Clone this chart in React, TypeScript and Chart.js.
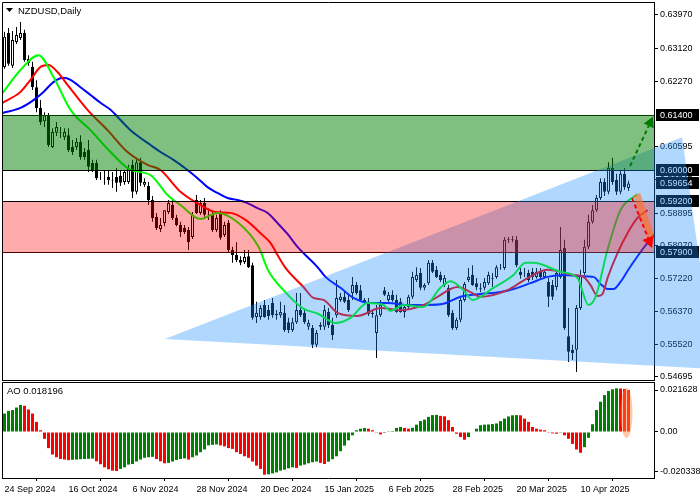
import React, { useEffect, useRef } from 'react';
import { Chart, registerables } from 'chart.js';
Chart.register(...registerables);

const FONT = '"Liberation Sans", Arial, sans-serif';

// ---------- price candles (NZDUSD daily) ----------
const openP = [
  0.6264, 0.6351, 0.6267, 0.6328, 0.6338, 0.6351, 0.6284, 0.6264, 0.6212, 0.6159,
  0.6125, 0.6140, 0.6059, 0.6095, 0.6097, 0.6084, 0.6089, 0.6059, 0.6059, 0.6072,
  0.6046, 0.6051, 0.6018, 0.6018, 0.5982, 0.5979, 0.5982, 0.5974, 0.5982, 0.5985,
  0.5969, 0.5969, 0.6013, 0.5944, 0.6020, 0.5962, 0.5959, 0.5923, 0.5880, 0.5849,
  0.5864, 0.5892, 0.5910, 0.5877, 0.5859, 0.5851, 0.5846, 0.5828, 0.5923, 0.5890,
  0.5915, 0.5887, 0.5885, 0.5846, 0.5890, 0.5833, 0.5864, 0.5795, 0.5782, 0.5769,
  0.5764, 0.5779, 0.5756, 0.5623, 0.5623, 0.5654, 0.5641, 0.5659, 0.5628, 0.5628,
  0.5634, 0.5610, 0.5590, 0.5610, 0.5641, 0.5634, 0.5598, 0.5595, 0.5552, 0.5598,
  0.5598, 0.5636, 0.5603, 0.5628, 0.5667, 0.5675, 0.5667, 0.5685, 0.5705, 0.5692,
  0.5667, 0.5662, 0.5631, 0.5582, 0.5628, 0.5692, 0.5667, 0.5680, 0.5667, 0.5662,
  0.5636, 0.5649, 0.5675, 0.5718, 0.5736, 0.5698, 0.5710, 0.5762, 0.5744, 0.5731,
  0.5705, 0.5698, 0.5634, 0.5595, 0.5616, 0.5667, 0.5718, 0.5731, 0.5710, 0.5695,
  0.5698, 0.5710, 0.5723, 0.5726, 0.5749, 0.5749, 0.5821, 0.5823, 0.5821, 0.5739,
  0.5736, 0.5736, 0.5739, 0.5726, 0.5739, 0.5726, 0.5713, 0.5705, 0.5700, 0.5726,
  0.5800, 0.5574, 0.5539, 0.5539, 0.5646, 0.5736, 0.5803, 0.5867, 0.5897, 0.5928,
  0.5969, 0.5944, 0.6005, 0.5974, 0.5944, 0.5990, 0.5954,
];
const highP = [
  0.6354, 0.6364, 0.6356, 0.6366, 0.6379, 0.6359, 0.6294, 0.6277, 0.6230, 0.6179,
  0.6148, 0.6146, 0.6107, 0.6123, 0.6110, 0.6107, 0.6107, 0.6077, 0.6082, 0.6089,
  0.6056, 0.6077, 0.6026, 0.6026, 0.5995, 0.6000, 0.6000, 0.5995, 0.6005, 0.6000,
  0.6000, 0.6013, 0.6026, 0.6031, 0.6031, 0.5979, 0.5969, 0.5933, 0.5890, 0.5877,
  0.5897, 0.5923, 0.5923, 0.5885, 0.5867, 0.5859, 0.5854, 0.5892, 0.5936, 0.5923,
  0.5928, 0.5902, 0.5897, 0.5885, 0.5897, 0.5867, 0.5872, 0.5803, 0.5815, 0.5779,
  0.5795, 0.5795, 0.5762, 0.5662, 0.5654, 0.5667, 0.5654, 0.5672, 0.5641, 0.5662,
  0.5654, 0.5621, 0.5621, 0.5685, 0.5685, 0.5641, 0.5616, 0.5603, 0.5590, 0.5610,
  0.5654, 0.5646, 0.5621, 0.5718, 0.5685, 0.5687, 0.5680, 0.5726, 0.5713, 0.5705,
  0.5672, 0.5672, 0.5641, 0.5654, 0.5667, 0.5700, 0.5687, 0.5692, 0.5680, 0.5672,
  0.5654, 0.5680, 0.5739, 0.5751, 0.5749, 0.5710, 0.5769, 0.5769, 0.5754, 0.5739,
  0.5731, 0.5705, 0.5641, 0.5621, 0.5672, 0.5713, 0.5749, 0.5756, 0.5723, 0.5710,
  0.5723, 0.5739, 0.5736, 0.5756, 0.5759, 0.5828, 0.5828, 0.5831, 0.5831, 0.5749,
  0.5749, 0.5744, 0.5749, 0.5749, 0.5749, 0.5744, 0.5723, 0.5718, 0.5744, 0.5854,
  0.5821, 0.5646, 0.5552, 0.5654, 0.5744, 0.5821, 0.5885, 0.5910, 0.5936, 0.5979,
  0.5979, 0.6020, 0.6031, 0.5990, 0.6000, 0.6005, 0.5972,
];
const lowP = [
  0.6259, 0.6267, 0.6261, 0.6323, 0.6333, 0.6277, 0.6267, 0.6205, 0.6148, 0.6115,
  0.6110, 0.6059, 0.6056, 0.6087, 0.6082, 0.6077, 0.6046, 0.6038, 0.6051, 0.6026,
  0.6026, 0.5995, 0.5995, 0.5974, 0.5974, 0.5962, 0.5962, 0.5954, 0.5944, 0.5959,
  0.5962, 0.5964, 0.5928, 0.5938, 0.5959, 0.5956, 0.5910, 0.5867, 0.5846, 0.5841,
  0.5856, 0.5887, 0.5872, 0.5856, 0.5828, 0.5836, 0.5795, 0.5823, 0.5887, 0.5885,
  0.5880, 0.5872, 0.5841, 0.5841, 0.5821, 0.5828, 0.5790, 0.5762, 0.5764, 0.5756,
  0.5759, 0.5749, 0.5616, 0.5608, 0.5616, 0.5621, 0.5616, 0.5621, 0.5616, 0.5621,
  0.5585, 0.5582, 0.5585, 0.5605, 0.5623, 0.5605, 0.5590, 0.5544, 0.5546, 0.5590,
  0.5590, 0.5595, 0.5564, 0.5621, 0.5662, 0.5659, 0.5636, 0.5667, 0.5680, 0.5664,
  0.5654, 0.5626, 0.5621, 0.5518, 0.5623, 0.5677, 0.5662, 0.5662, 0.5634, 0.5634,
  0.5621, 0.5644, 0.5670, 0.5713, 0.5692, 0.5692, 0.5705, 0.5736, 0.5723, 0.5713,
  0.5700, 0.5623, 0.5590, 0.5590, 0.5610, 0.5662, 0.5713, 0.5703, 0.5692, 0.5687,
  0.5692, 0.5705, 0.5700, 0.5721, 0.5744, 0.5744, 0.5813, 0.5815, 0.5751, 0.5721,
  0.5726, 0.5713, 0.5718, 0.5721, 0.5718, 0.5721, 0.5649, 0.5667, 0.5692, 0.5721,
  0.5590, 0.5508, 0.5513, 0.5482, 0.5641, 0.5731, 0.5797, 0.5862, 0.5892, 0.5923,
  0.5933, 0.5938, 0.5962, 0.5936, 0.5938, 0.5949, 0.5946,
];
const closeP = [
  0.6341, 0.6272, 0.6333, 0.6346, 0.6351, 0.6282, 0.6274, 0.6212, 0.6159, 0.6123,
  0.6140, 0.6064, 0.6097, 0.6110, 0.6096, 0.6097, 0.6051, 0.6046, 0.6072, 0.6033,
  0.6033, 0.6008, 0.6000, 0.5979, 0.5981, 0.5978, 0.5974, 0.5973, 0.5967, 0.5967,
  0.5995, 0.6005, 0.5944, 0.6020, 0.5967, 0.5969, 0.5923, 0.5877, 0.5851, 0.5859,
  0.5897, 0.5915, 0.5877, 0.5859, 0.5841, 0.5841, 0.5815, 0.5885, 0.5890, 0.5915,
  0.5885, 0.5886, 0.5846, 0.5877, 0.5826, 0.5859, 0.5795, 0.5782, 0.5769, 0.5762,
  0.5777, 0.5751, 0.5621, 0.5634, 0.5646, 0.5623, 0.5626, 0.5628, 0.5631, 0.5636,
  0.5590, 0.5590, 0.5610, 0.5641, 0.5628, 0.5610, 0.5608, 0.5552, 0.5582, 0.5603,
  0.5641, 0.5603, 0.5577, 0.5672, 0.5675, 0.5662, 0.5641, 0.5705, 0.5685, 0.5667,
  0.5659, 0.5631, 0.5634, 0.5628, 0.5654, 0.5680, 0.5680, 0.5667, 0.5636, 0.5636,
  0.5649, 0.5675, 0.5726, 0.5731, 0.5698, 0.5705, 0.5762, 0.5739, 0.5726, 0.5718,
  0.5723, 0.5628, 0.5595, 0.5616, 0.5667, 0.5708, 0.5726, 0.5705, 0.5700, 0.5697,
  0.5713, 0.5731, 0.5721, 0.5751, 0.5748, 0.5821, 0.5823, 0.5821, 0.5756, 0.5731,
  0.5735, 0.5718, 0.5726, 0.5739, 0.5726, 0.5739, 0.5675, 0.5675, 0.5736, 0.5795,
  0.5595, 0.5534, 0.5531, 0.5646, 0.5731, 0.5803, 0.5867, 0.5897, 0.5928, 0.5969,
  0.5944, 0.6005, 0.5969, 0.5944, 0.5990, 0.5956, 0.5965,
];

// ---------- Alligator lines (bar position, price) ----------
const lipsX = [-0.5, 4, 8.5, 12.25, 16.5, 21.5, 26.5, 31.5, 36.5, 40.75, 44, 49, 53.25, 58.5, 63.5, 66, 69.75, 74.5, 78.5, 82.75, 86.5, 90.75, 94.75, 96.5, 99.75, 104.75, 109, 111.5, 114.75, 117, 122.25, 127.25, 130.25, 132.25, 139, 143.25, 146, 147.75, 150.75, 154, 158.25];
const lipsY = [0.6197, 0.6256, 0.6294, 0.6238, 0.6154, 0.6102, 0.6046, 0.6000, 0.5987, 0.5936, 0.5910, 0.5874, 0.5890, 0.5864, 0.5803, 0.5741, 0.5692, 0.5646, 0.5631, 0.5608, 0.5621, 0.5659, 0.5654, 0.5639, 0.5654, 0.5649, 0.5698, 0.5715, 0.5692, 0.5667, 0.5698, 0.5731, 0.5762, 0.5762, 0.5739, 0.5723, 0.5654, 0.5675, 0.5795, 0.5897, 0.5938];
const teethX = [-0.5, 4, 6.5, 9, 11, 13.25, 15.75, 20.75, 25.75, 30.75, 35.75, 39, 44, 49, 52.75, 56.5, 60.25, 64, 66.5, 68.25, 70.25, 74.75, 77.25, 79.75, 83.25, 88.25, 94, 99, 104.75, 108.25, 113.25, 116.5, 119, 125.75, 130.75, 135.75, 142.25, 144.75, 146.5, 148.25, 149.5, 150.75, 153.25, 155.75, 158.25, 160.75];
const teethY = [0.6172, 0.6200, 0.6231, 0.6264, 0.6269, 0.6251, 0.6218, 0.6154, 0.6102, 0.6046, 0.6013, 0.6000, 0.5944, 0.5910, 0.5892, 0.5890, 0.5872, 0.5838, 0.5813, 0.5782, 0.5749, 0.5700, 0.5672, 0.5667, 0.5634, 0.5626, 0.5646, 0.5641, 0.5654, 0.5675, 0.5700, 0.5687, 0.5675, 0.5692, 0.5723, 0.5744, 0.5731, 0.5726, 0.5705, 0.5677, 0.5682, 0.5723, 0.5787, 0.5838, 0.5877, 0.5897];
const jawX = [-0.5, 4, 7.25, 9.75, 12.25, 14.75, 16.5, 19, 21.5, 24, 26.5, 29, 31.5, 34, 36.5, 39, 42.25, 45.75, 48.25, 50.75, 53.25, 55.75, 58.25, 60.75, 63.25, 65.75, 68.25, 70.75, 73.25, 75.75, 78.25, 80.25, 84, 87.25, 91.5, 95.75, 100.75, 105.75, 109.75, 114, 119, 124, 127.25, 131.5, 135.75, 139.75, 144, 147.25, 149, 150.75, 152.25, 154, 155.75, 157.25, 159.75, 162.75];
const jawY = [0.6146, 0.6159, 0.6179, 0.6200, 0.6225, 0.6236, 0.6231, 0.6212, 0.6192, 0.6172, 0.6154, 0.6128, 0.6102, 0.6082, 0.6064, 0.6046, 0.6026, 0.6000, 0.5979, 0.5956, 0.5941, 0.5928, 0.5923, 0.5915, 0.5902, 0.5890, 0.5864, 0.5836, 0.5803, 0.5777, 0.5751, 0.5726, 0.5698, 0.5672, 0.5659, 0.5659, 0.5654, 0.5654, 0.5657, 0.5675, 0.5682, 0.5687, 0.5695, 0.5710, 0.5726, 0.5731, 0.5728, 0.5726, 0.5708, 0.5695, 0.5695, 0.5713, 0.5741, 0.5764, 0.5800, 0.5838];

// ---------- Awesome Oscillator ----------
const aoValues = [
  0.0095, 0.0109, 0.0113, 0.0126, 0.0139, 0.0135, 0.0116, 0.0095, 0.0052, 0.0009,
  -0.0035, -0.0083, -0.0116, -0.0130, -0.0139, -0.0142, -0.0145, -0.0143, -0.0142, -0.0140,
  -0.0139, -0.0138, -0.0137, -0.0151, -0.0166, -0.0182, -0.0192, -0.0199, -0.0201, -0.0190,
  -0.0182, -0.0168, -0.0165, -0.0152, -0.0142, -0.0133, -0.0130, -0.0128, -0.0139, -0.0151,
  -0.0161, -0.0159, -0.0152, -0.0144, -0.0139, -0.0136, -0.0142, -0.0130, -0.0121, -0.0104,
  -0.0090, -0.0069, -0.0066, -0.0064, -0.0069, -0.0074, -0.0083, -0.0087, -0.0104, -0.0113,
  -0.0125, -0.0133, -0.0152, -0.0173, -0.0190, -0.0220, -0.0218, -0.0213, -0.0208, -0.0199,
  -0.0194, -0.0187, -0.0182, -0.0185, -0.0173, -0.0168, -0.0161, -0.0156, -0.0152, -0.0159,
  -0.0165, -0.0153, -0.0140, -0.0125, -0.0099, -0.0070, -0.0043, -0.0017, 0.0009, 0.0017,
  0.0021, 0.0017, 0.0009, -0.0004, -0.0012, -0.0005, 0.0004, 0.0005, 0.0021, 0.0026,
  0.0021, 0.0017, 0.0022, 0.0038, 0.0056, 0.0064, 0.0078, 0.0087, 0.0088, 0.0083,
  0.0081, 0.0061, 0.0026, -0.0009, -0.0026, -0.0040, -0.0026, -0.0003, 0.0017, 0.0035,
  0.0038, 0.0039, 0.0041, 0.0044, 0.0056, 0.0069, 0.0080, 0.0086, 0.0087, 0.0086,
  0.0069, 0.0052, 0.0026, 0.0017, 0.0012, 0.0009, -0.0004, -0.0007, -0.0009, -0.0004,
  -0.0017, -0.0035, -0.0061, -0.0090, -0.0107, -0.0078, -0.0030, 0.0040, 0.0113, 0.0156,
  0.0190, 0.0211, 0.0220, 0.0225, 0.0224, 0.0222, 0.0216,
];

// ---------- axes / labels ----------
const dateLabels = ['24 Sep 2024', '16 Oct 2024', '6 Nov 2024', '28 Nov 2024', '20 Dec 2024', '15 Jan 2025', '6 Feb 2025', '28 Feb 2025', '20 Mar 2025', '10 Apr 2025'];
const dateBars = [0, 16, 32, 48, 64, 80, 96, 112, 128, 144];
const priceTicks = [0.6397, 0.6312, 0.6227, 0.60595, 0.59745, 0.58895, 0.5807, 0.5722, 0.5637, 0.5552, 0.54695];
const aoTicks = [0.021628, 0, -0.020338];
const aoTickLabels = ['0.021628', '0.00', '-0.020338'];
const aoCurrent = '0.018196';
const levelLines = [0.614, 0.6, 0.592, 0.579];
const boxedPrices = [0.614, 0.6, 0.59654, 0.592, 0.579];
const buyZone = [0.614, 0.6];
const sellZone = [0.592, 0.579];
const triangleBars = [40.1, 169.4, 177.6];
const trianglePrices = [0.5567, 0.6084, 0.549];
const upArrow = { bars: [156.4, 162.1], prices: [0.601, 0.6136] };
const downArrow = { bars: [156.9, 161.9], prices: [0.5928, 0.58] };
const wedge = { bars: [158.1, 161.6], prices: [0.5938, 0.5826] };

const X_MIN = -0.625;
const X_MAX = 162.375;

function drawArrow(ctx: any, x1: number, y1: number, x2: number, y2: number, color: string, head: number) {
  const ang = Math.atan2(y2 - y1, x2 - x1);
  const bx = x2 - head * Math.cos(ang);
  const by = y2 - head * Math.sin(ang);
  ctx.save();
  ctx.strokeStyle = color;
  ctx.lineWidth = 2;
  ctx.setLineDash([4, 3]);
  ctx.beginPath();
  ctx.moveTo(x1, y1);
  ctx.lineTo(bx, by);
  ctx.stroke();
  ctx.setLineDash([]);
  ctx.fillStyle = color;
  const w = head * 0.55;
  ctx.beginPath();
  ctx.moveTo(x2, y2);
  ctx.lineTo(bx + w * Math.sin(ang), by - w * Math.cos(ang));
  ctx.lineTo(bx - w * Math.sin(ang), by + w * Math.cos(ang));
  ctx.closePath();
  ctx.fill();
  ctx.restore();
}

const mainPlugin = {
  id: 'mainDeco',
  afterDraw(chart: any) {
    const { ctx, chartArea: ca, scales } = chart;
    const X = (v: number) => scales.x.getPixelForValue(v);
    const Y = (v: number) => scales.y.getPixelForValue(v);
    ctx.save();
    // frame
    ctx.strokeStyle = '#000';
    ctx.lineWidth = 1;
    ctx.beginPath();
    ctx.moveTo(ca.left + 0.5, ca.bottom + 1);
    ctx.lineTo(ca.left + 0.5, ca.top + 0.5);
    ctx.lineTo(ca.right, ca.top + 0.5);
    ctx.moveTo(ca.left, ca.bottom + 0.5);
    ctx.lineTo(ca.right, ca.bottom + 0.5);
    ctx.stroke();
    // level lines
    levelLines.forEach((v) => {
      const y = Math.round(Y(v)) + 0.5;
      ctx.beginPath();
      ctx.moveTo(ca.left, y);
      ctx.lineTo(ca.right, y);
      ctx.stroke();
    });
    // price boxes on the axis
    ctx.font = `9px ${FONT}`;
    ctx.textBaseline = 'middle';
    ctx.textAlign = 'left';
    boxedPrices.forEach((v) => {
      const y = Math.round(Y(v));
      ctx.fillStyle = '#000';
      ctx.fillRect(ca.right + 2, y - 6, 43, 12);
      ctx.fillStyle = '#fff';
      ctx.fillText(v.toFixed(5), ca.right + 6, y + 0.5);
    });
    // triangle
    ctx.fillStyle = 'rgba(30,144,255,0.35)';
    ctx.beginPath();
    triangleBars.forEach((b, i) => {
      const px = X(b), py = Y(trianglePrices[i]);
      if (i === 0) ctx.moveTo(px, py); else ctx.lineTo(px, py);
    });
    ctx.closePath();
    ctx.fill();
    // zones
    const sy1 = Math.round(Y(sellZone[0])), sy2 = Math.round(Y(sellZone[1]));
    ctx.fillStyle = 'rgba(255,0,0,0.33)';
    ctx.fillRect(ca.left + 1, sy1 + 1, ca.right - ca.left - 1, sy2 - sy1);
    const gy1 = Math.round(Y(buyZone[0])), gy2 = Math.round(Y(buyZone[1]));
    ctx.fillStyle = 'rgba(0,128,0,0.5)';
    ctx.fillRect(ca.left + 1, gy1, ca.right - ca.left - 1, gy2 - gy1);
    // orange wedge
    ctx.strokeStyle = 'rgba(255,110,30,0.6)';
    ctx.lineWidth = 7;
    ctx.beginPath();
    ctx.moveTo(X(wedge.bars[0]), Y(wedge.prices[0]));
    ctx.lineTo(X(wedge.bars[1]), Y(wedge.prices[1]));
    ctx.stroke();
    // arrows
    drawArrow(ctx, X(upArrow.bars[0]), Y(upArrow.prices[0]), X(upArrow.bars[1]), Y(upArrow.prices[1]), '#007a00', 10);
    drawArrow(ctx, X(downArrow.bars[0]), Y(downArrow.prices[0]), X(downArrow.bars[1]), Y(downArrow.prices[1]), '#ff0000', 11);
    // title
    ctx.fillStyle = '#000';
    ctx.beginPath();
    ctx.moveTo(6, 8);
    ctx.lineTo(13, 8);
    ctx.lineTo(9.5, 12);
    ctx.closePath();
    ctx.fill();
    ctx.font = `9.5px ${FONT}`;
    ctx.textBaseline = 'middle';
    ctx.fillText('NZDUSD,Daily', 18, 11);
    ctx.restore();
  },
};

const aoPlugin = {
  id: 'aoDeco',
  afterDraw(chart: any) {
    const { ctx, chartArea: ca, scales } = chart;
    const X = (v: number) => scales.x.getPixelForValue(v);
    const Y = (v: number) => scales.y.getPixelForValue(v);
    ctx.save();
    ctx.strokeStyle = '#000';
    ctx.lineWidth = 1;
    ctx.beginPath();
    ctx.moveTo(ca.left + 0.5, ca.bottom);
    ctx.lineTo(ca.left + 0.5, ca.top + 0.5);
    ctx.lineTo(ca.right, ca.top + 0.5);
    ctx.stroke();
    // highlight on the last bars
    const cx = X(155.5), cy = Y(0.0098);
    const g = ctx.createRadialGradient(cx, cy, 2, cx, cy, 26);
    ctx.fillStyle = 'rgba(255,140,60,0.45)';
    ctx.beginPath();
    ctx.ellipse(cx, cy, 6, 25, 0, 0, Math.PI * 2);
    ctx.fill();
    void g;
    ctx.fillStyle = '#000';
    ctx.font = `9.5px ${FONT}`;
    ctx.textBaseline = 'middle';
    ctx.textAlign = 'left';
    ctx.fillText('AO ' + aoCurrent, 7, 10.5);
    ctx.restore();
  },
};

function mainConfig(): any {
  const idx = closeP.map((_, i) => i);
  const line = (xs: number[], ys: number[], color: string, order: number) => ({
    type: 'line',
    data: xs.map((x, i) => ({ x, y: ys[i] })),
    borderColor: color,
    borderWidth: 2,
    pointRadius: 0,
    cubicInterpolationMode: 'monotone',
    order,
  });
  return {
    type: 'bar',
    data: {
      datasets: [
        line(lipsX, lipsY, '#00ff00', 0),
        line(teethX, teethY, '#ff0000', 1),
        line(jawX, jawY, '#0000ff', 2),
        {
          type: 'bar',
          data: idx.map((i) => ({ x: i, y: [openP[i], closeP[i]] })),
          backgroundColor: (c: any) => (closeP[c.dataIndex] >= openP[c.dataIndex] ? '#ffffff' : '#000000'),
          borderColor: '#000',
          borderWidth: 1,
          borderSkipped: false,
          barThickness: 3,
          inflateAmount: 0,
          grouped: false,
          order: 3,
        },
        {
          type: 'bar',
          data: idx.map((i) => ({ x: i, y: [lowP[i], highP[i]] })),
          backgroundColor: '#000',
          borderWidth: 0,
          barThickness: 1,
          inflateAmount: 0,
          grouped: false,
          order: 4,
        },
      ],
    },
    options: {
      responsive: false,
      animation: false,
      events: [],
      devicePixelRatio: 1,
      layout: { padding: { left: 2, top: 2, right: 0, bottom: 1 } },
      plugins: { legend: { display: false }, tooltip: { enabled: false } },
      scales: {
        x: { type: 'linear', min: X_MIN, max: X_MAX, offset: false, display: false },
        y: {
          position: 'right',
          min: 0.54618,
          max: 0.64303,
          afterBuildTicks: (ax: any) => { ax.ticks = priceTicks.map((v) => ({ value: v })); },
          afterFit: (ax: any) => { ax.width = 46; ax.paddingTop = 0; ax.paddingBottom = 0; },
          ticks: {
            callback: (v: any) => Number(v).toFixed(5),
            color: '#000',
            font: { family: FONT, size: 9 },
            padding: 2,
            autoSkip: false,
          },
          grid: { drawOnChartArea: false, drawTicks: true, tickLength: 4, color: '#000' },
          border: { display: true, color: '#000' },
        },
      },
    },
    plugins: [mainPlugin],
  };
}

function aoConfig(): any {
  return {
    type: 'bar',
    data: {
      datasets: [
        {
          data: aoValues.map((v, i) => ({ x: i, y: v })),
          backgroundColor: (c: any) => {
            const i = c.dataIndex;
            return i === 0 || aoValues[i] > aoValues[i - 1] ? '#008000' : '#ff0000';
          },
          borderWidth: 0,
          barThickness: 3,
          inflateAmount: 0,
        },
      ],
    },
    options: {
      responsive: false,
      animation: false,
      events: [],
      devicePixelRatio: 1,
      layout: { padding: { left: 2, top: 1, right: 0, bottom: 0 } },
      plugins: { legend: { display: false }, tooltip: { enabled: false } },
      scales: {
        x: {
          type: 'linear',
          min: X_MIN,
          max: X_MAX,
          offset: false,
          afterBuildTicks: (ax: any) => { ax.ticks = dateBars.map((v) => ({ value: v })); },
          afterFit: (ax: any) => { ax.height = 22; ax.paddingLeft = 0; ax.paddingRight = 0; },
          ticks: {
            callback: (_v: any, i: number) => dateLabels[i],
            align: 'start',
            autoSkip: false,
            maxRotation: 0,
            color: '#000',
            font: { family: FONT, size: 9 },
            padding: 3,
          },
          grid: { drawOnChartArea: false, drawTicks: true, tickLength: 3, color: '#000' },
          border: { display: true, color: '#000' },
        },
        y: {
          position: 'right',
          min: -0.02369,
          max: 0.02575,
          afterBuildTicks: (ax: any) => { ax.ticks = aoTicks.map((v) => ({ value: v })); },
          afterFit: (ax: any) => { ax.width = 46; ax.paddingTop = 0; ax.paddingBottom = 0; },
          ticks: {
            callback: (_v: any, i: number) => aoTickLabels[i],
            color: '#000',
            font: { family: FONT, size: 9 },
            padding: 2,
            autoSkip: false,
          },
          grid: { drawOnChartArea: false, drawTicks: true, tickLength: 4, color: '#000' },
          border: { display: true, color: '#000' },
        },
      },
    },
    plugins: [aoPlugin],
  };
}

export default function App() {
  const mainRef = useRef<HTMLCanvasElement>(null);
  const aoRef = useRef<HTMLCanvasElement>(null);
  useEffect(() => {
    const c1 = new Chart(mainRef.current as HTMLCanvasElement, mainConfig());
    const c2 = new Chart(aoRef.current as HTMLCanvasElement, aoConfig());
    return () => {
      c1.destroy();
      c2.destroy();
    };
  }, []);
  return (
    <div style={{ position: 'absolute', left: 0, top: 0, width: 700, height: 500, background: '#fff' }}>
      <canvas ref={mainRef} width={700} height={381} style={{ position: 'absolute', left: 0, top: 0 }} />
      <canvas ref={aoRef} width={700} height={119} style={{ position: 'absolute', left: 0, top: 381 }} />
    </div>
  );
}
